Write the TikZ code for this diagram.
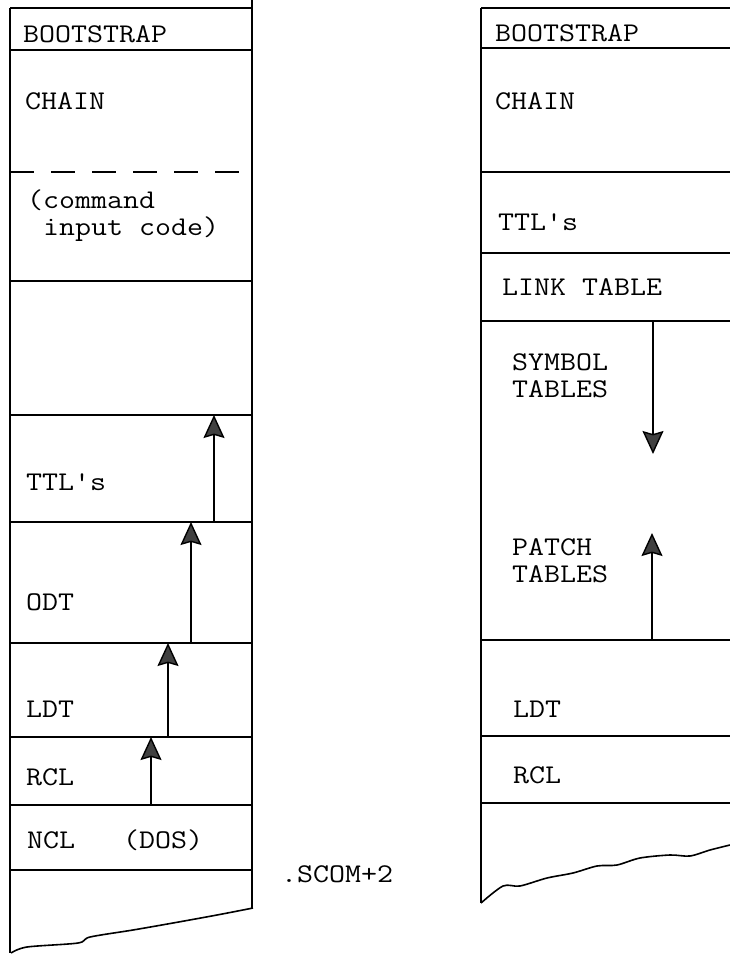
\documentclass[tikz,border=0pt]{standalone}
\usepackage{fontspec}
\newfontfamily\typewriter[FakeStretch=1.15]{Latin Modern Mono}
\usetikzlibrary{arrows.meta}

\begin{document}
\begin{tikzpicture}[x=1pt, y=-1pt,
  wall/.style={line width=1.6pt},
  lbl/.style={anchor=base west, inner sep=0pt, align=left,
    font=\typewriter\fontsize{27}{27}\selectfont},
  growarrow/.style={line width=1.4pt,
    -{Stealth[length=23pt, width=21pt, inset=3pt, fill=black!75]}}]
  \useasboundingbox (0,0) rectangle (730,955);
  % left map
  \draw[wall] (10,8) -- (10,953);
  \draw[wall] (252,0) -- (252,908);
  \foreach \y in {8,50,281,415,522,643,737,805,870} {
    \draw[wall] (10,\y) -- (252,\y);
  }
  \draw[wall, dash pattern=on 24pt off 17pt] (10,172) -- (252,172);
  \draw[wall] plot[smooth] coordinates {(11,953) (27,947) (78,943) (90,937)
    (133,930) (173,923) (217,915) (253,908)};
  \node[lbl] (lboot) at (23,43) {BOOTSTRAP};
  \node[lbl] (lchain) at (25,110) {CHAIN};
  \node[lbl] (lcmd) at (27,235) {(command\\\phantom{(}input code)};
  \node[lbl] (lttl) at (26,490) {TTL's};
  \node[lbl] (lodt) at (26,610) {ODT};
  \node[lbl] (lldt) at (26,717) {LDT};
  \node[lbl] (lrcl) at (26,785) {RCL};
  \node[lbl] (lncl) at (27,848) {NCL\ \ \ (DOS)};
  \node[lbl] (scom) at (281,882) {.SCOM+2};
  \coordinate (r1) at (151,805);
  \coordinate (r2) at (151,737);
  \coordinate (l1) at (168,737);
  \coordinate (l2) at (168,643);
  \coordinate (o1) at (191,643);
  \coordinate (o2) at (191,522);
  \coordinate (t1) at (214,522);
  \coordinate (t2) at (214,415);
  \draw[growarrow] (r1) -- (r2);
  \draw[growarrow] (l1) -- (l2);
  \draw[growarrow] (o1) -- (o2);
  \draw[growarrow] (t1) -- (t2);
  % right map
  \draw[wall] (481,8) -- (481,903);
  \foreach \y in {8,48,172,253,321,640,736,803} {
    \draw[wall] (481,\y) -- (730,\y);
  }
  \draw[wall] plot[smooth] coordinates {(481,903) (503,886) (520,886) (547,878)
    (573,873) (597,866) (617,865) (640,858) (670,855) (690,856) (710,850) (730,845)};
  \node[lbl] (rboot) at (495,42) {BOOTSTRAP};
  \node[lbl] (rchain) at (495,110) {CHAIN};
  \node[lbl] (rttl) at (498,230) {TTL's};
  \node[lbl] (rlink) at (502,295) {LINK TABLE};
  \node[lbl] (rsym) at (512,397) {SYMBOL\\TABLES};
  \node[lbl] (rpatch) at (512,582) {PATCH\\TABLES};
  \node[lbl] (rldt) at (513,717) {LDT};
  \node[lbl] (rrcl) at (513,783) {RCL};
  \coordinate (s1) at (653,321);
  \coordinate (s2) at (653,454);
  \coordinate (p1) at (652,640);
  \coordinate (p2) at (652,533);
  \draw[growarrow] (s1) -- (s2);
  \draw[growarrow] (p1) -- (p2);
\end{tikzpicture}
\end{document}
